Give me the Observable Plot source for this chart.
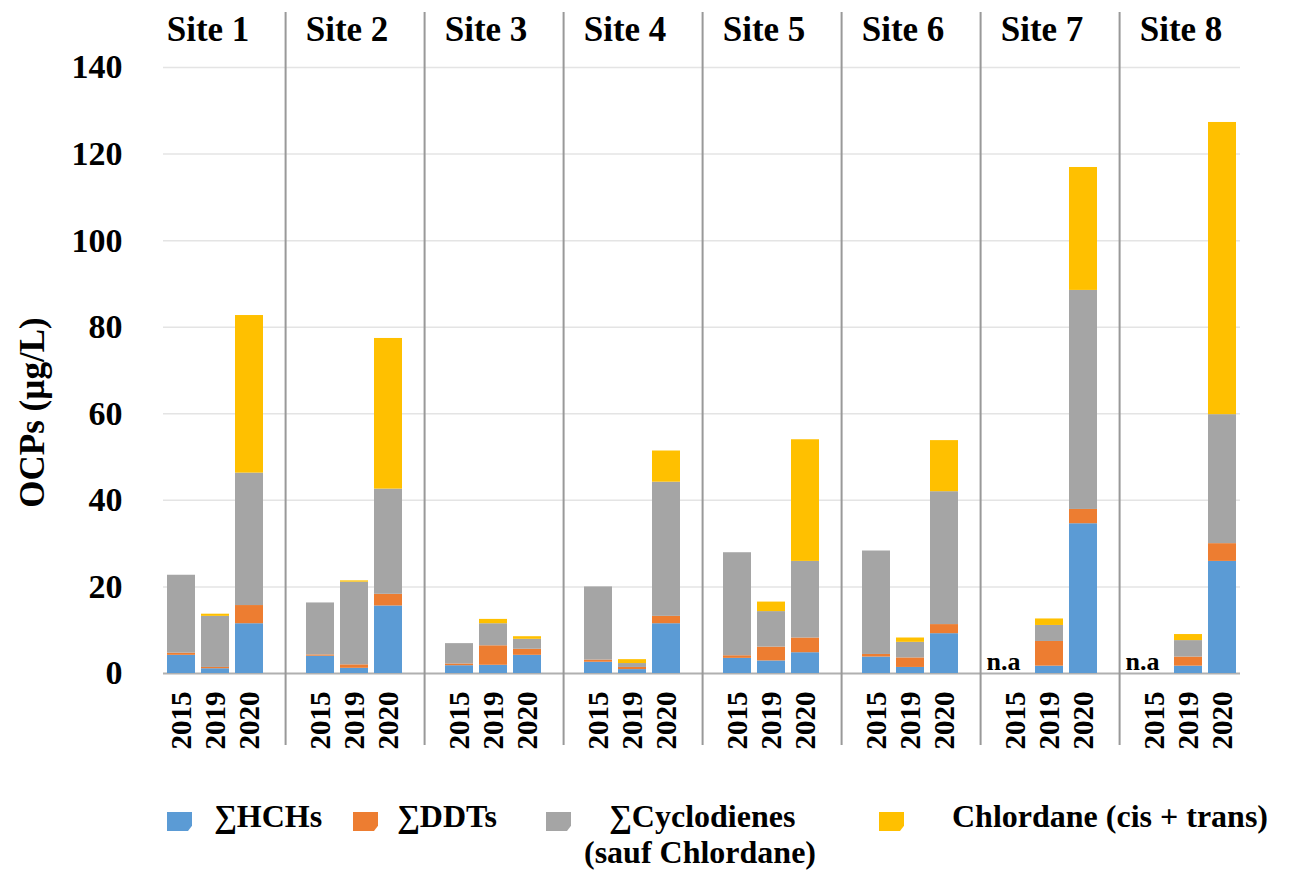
<!DOCTYPE html>
<html>
<head>
<meta charset="utf-8">
<script src="https://cdn.jsdelivr.net/npm/d3@7"></script>
<script src="https://cdn.jsdelivr.net/npm/@observablehq/plot@0.6"></script>
<style>
  html, body { margin: 0; padding: 0; background: #fff; }
  #wrap { position: relative; width: 1290px; height: 874px; font-family: "Liberation Serif", "Times New Roman", serif; font-weight: bold; color: #000; }
  .sw { position: absolute; width: 25px; height: 19px; top: 812px; clip-path: polygon(0 0, 100% 0, 100% 72%, 84% 100%, 0 100%); }
  .lt { position: absolute; font-size: 32px; line-height: 36px; white-space: nowrap; }
</style>
</head>
<body>
<div id="wrap"></div>
<script>
const sites = ["Site 1", "Site 2", "Site 3", "Site 4", "Site 5", "Site 6", "Site 7", "Site 8"];
const years = ["2015", "2019", "2020"];
const seriesNames = ["∑HCHs", "∑DDTs", "∑Cyclodienes (sauf Chlordane)", "Chlordane (cis + trans)"];
const seriesColors = ["#5b9bd5", "#ed7d31", "#a5a5a5", "#ffc000"];
const yTicks = [0, 20, 40, 60, 80, 100, 120, 140];

// values per site x year (2015, 2019, 2020); null = n.a
const hch = [4.2, 1.1, 11.5, 4.0, 1.2, 15.6, 1.8, 1.9, 4.2, 2.6, 0.9, 11.5, 3.5, 2.9, 4.8, 3.8, 1.4, 9.2, null, 1.7, 34.6, null, 1.7, 25.9];
const ddt = [0.5, 0.3, 4.2, 0.3, 0.8, 2.7, 0.4, 4.5, 1.4, 0.5, 0.5, 1.7, 0.6, 3.2, 3.4, 0.6, 2.2, 2.1, null, 5.7, 3.3, null, 2.1, 4.1];
const cyclo = [18.0, 11.8, 30.6, 12.0, 19.1, 24.3, 4.7, 5.1, 2.3, 16.9, 0.9, 31.0, 23.8, 8.2, 17.7, 23.9, 3.6, 30.7, null, 3.7, 50.6, null, 3.8, 29.8];
const chlordane = [0, 0.5, 36.4, 0, 0.3, 34.8, 0, 1.0, 0.6, 0, 0.9, 7.2, 0, 2.2, 28.1, 0, 1.0, 11.8, null, 1.5, 28.4, null, 1.4, 67.5];
const seriesValues = [hch, ddt, cyclo, chlordane];

const rows = [];
sites.forEach((s, i) => years.forEach((yr, j) => {
  const k = i * years.length + j;
  seriesNames.forEach((name, m) => {
    const v = seriesValues[m][k];
    if (v != null) rows.push({site: s, year: yr, series: name, value: v});
  });
}));
const naData = [];
sites.forEach((s, i) => years.forEach((yr, j) => {
  if (hch[i * years.length + j] == null) naData.push({site: s, year: yr});
}));

const W = 1290, H = 780, mL = 143, mR = 30, mT = 67, mB = H - 673;
const pIn = 0.17, pOut = 0.585;
const facetW = (W - mL - mR) / sites.length;
const step = facetW / (years.length - pIn + 2 * pOut);
const firstCenter = pOut * step + (1 - pIn) * step / 2;

const gridRows = sites.flatMap(s => yTicks.map(v => ({site: s, v})));
const gridMark = (subset, opts) => Plot.ruleY(gridRows.filter(d => subset.includes(d.site)), {
  fx: "site", y: "v",
  stroke: d => d.v === 0 ? "#b0b0b0" : "#e4e4e4",
  strokeWidth: d => d.v === 0 ? 2 : 1.5,
  ...opts
});

const chart = Plot.plot({
  width: W, height: H,
  marginLeft: mL, marginRight: mR, marginTop: mT, marginBottom: mB,
  style: {fontFamily: "'Liberation Serif', 'Times New Roman', serif", background: "#fff", overflow: "visible"},
  fx: {domain: sites, padding: 0, label: null},
  x: {domain: years, paddingInner: pIn, paddingOuter: pOut, label: null},
  y: {domain: [0, 140], label: null},
  color: {domain: seriesNames, range: seriesColors},
  marks: [
    gridMark(sites.slice(1, 7), {}),
    gridMark([sites[0]], {insetLeft: 17}),
    gridMark([sites[7]], {insetRight: 18}),
    Plot.barY(rows, {fx: "site", x: "year", y: "value", fill: "series"}),
    Plot.ruleX(sites.slice(1), {fx: d => d, x: () => years[0], dx: -firstCenter, stroke: "#999", strokeWidth: 2, insetTop: -55, insetBottom: -72}),
    Plot.text(naData, {fx: "site", x: "year", frameAnchor: "bottom", text: () => "n.a", dx: -12, dy: -4, lineAnchor: "bottom", fontSize: 26, fontWeight: "bold", fill: "#000"}),
    Plot.axisY({ticks: yTicks, tickSize: 0, tickPadding: 24, fontSize: 34, fontWeight: "bold", label: null, tickFormat: d => String(d), fill: "#000"}),
    Plot.axisX({tickRotate: -90, tickSize: 0, tickPadding: 18, fontSize: 29, fontWeight: "bold", label: null, fill: "#000"}),
    Plot.axisFx({anchor: "top", tickSize: 0, tickPadding: 27, fontSize: 35, fontWeight: "bold", label: null, dx: -8, fill: "#000"}),
    Plot.text(["OCPs (µg/L)"], {fx: () => sites[0], frameAnchor: "left", textAnchor: "middle", rotate: -90, dx: -114, dy: 42, fontSize: 35, fontWeight: "bold", fill: "#000"})
  ]
});

const wrap = document.getElementById("wrap");
wrap.appendChild(chart);

// Legend (HTML, below the SVG)
const legendItems = [
  {sw: 167, lines: [{t: seriesNames[0], left: 214, top: 798}]},
  {sw: 353, lines: [{t: seriesNames[1], left: 397, top: 798}]},
  {sw: 546, lines: [{t: "∑Cyclodienes", left: 609, top: 798}, {t: "(sauf Chlordane)", left: 584, top: 834}]},
  {sw: 879, lines: [{t: seriesNames[3], left: 952, top: 798}]}
];
legendItems.forEach((item, i) => {
  const sw = document.createElement("div");
  sw.className = "sw";
  sw.style.left = item.sw + "px";
  sw.style.background = seriesColors[i];
  wrap.appendChild(sw);
  item.lines.forEach(l => {
    const t = document.createElement("div");
    t.className = "lt";
    t.textContent = l.t;
    t.style.left = l.left + "px";
    t.style.top = l.top + "px";
    wrap.appendChild(t);
  });
});
</script>
</body>
</html>
